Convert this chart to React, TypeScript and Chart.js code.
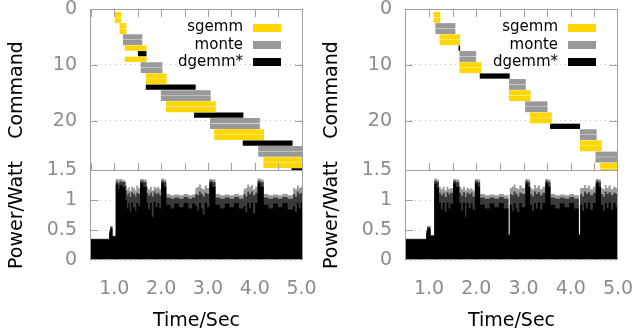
import React, { useEffect, useRef } from 'react';
import { Chart, registerables } from 'chart.js';
Chart.register(...registerables);

// ---------- shared ticks ----------
const commandTicks = [0, 10, 20];
const powerTicks = [0, 0.5, 1, 1.5];
const timeLabels = [1, 2, 3, 4, 5];
const timeMarks = [0.5, 1.0, 1.5, 2.0, 2.5, 3.0, 3.5, 4.0, 4.5, 5.0];
const powerMarks = [0.5, 1.0];

// ---------- left panel: commands [row, start, end] ----------
const leftSgemm: number[][] = [
  [1, 1.015, 1.137], [2, 1.015, 1.137], [3, 1.12, 1.25], [4, 1.12, 1.25],
  [7, 1.23, 1.68], [9, 1.23, 1.68], [12, 1.68, 2.11], [13, 1.68, 2.11],
  [17, 2.11, 3.16], [18, 2.11, 3.16], [22, 3.14, 4.19], [23, 3.14, 4.19],
  [27, 4.19, 5.25], [28, 4.19, 5.25],
];
const leftMonte: number[][] = [
  [5, 1.19, 1.59], [6, 1.19, 1.59], [10, 1.57, 2.02], [11, 1.57, 2.02],
  [15, 2.0, 3.05], [16, 2.0, 3.05], [20, 3.05, 4.1], [21, 3.05, 4.1],
  [25, 4.08, 5.13], [26, 4.08, 5.13],
];
const leftDgemm: number[][] = [
  [8, 1.51, 1.68], [14, 1.68, 2.73], [19, 2.71, 3.75], [24, 3.75, 4.8], [29, 4.79, 5.84],
];

// ---------- right panel: commands [row, start, end] ----------
const rightSgemm: number[][] = [
  [1, 1.1, 1.23], [2, 1.1, 1.23], [5, 1.23, 1.65], [6, 1.23, 1.65],
  [10, 1.65, 2.1], [11, 1.65, 2.1], [15, 2.7, 3.14], [16, 2.7, 3.14],
  [19, 3.14, 3.59], [20, 3.14, 3.59], [24, 4.2, 4.65], [25, 4.2, 4.65],
  [28, 4.63, 5.1], [29, 4.63, 5.1],
];
const rightMonte: number[][] = [
  [3, 1.14, 1.55], [4, 1.14, 1.55], [8, 1.65, 1.99], [9, 1.65, 1.99],
  [13, 2.7, 3.04], [14, 2.7, 3.04], [17, 3.04, 3.5], [18, 3.04, 3.5],
  [22, 4.2, 4.54], [23, 4.2, 4.54], [26, 4.53, 5.05], [27, 4.53, 5.05],
];
const rightDgemm: number[][] = [
  [7, 1.63, 1.65], [12, 2.08, 2.7], [21, 3.57, 4.19],
];

// ---------- power traces (breakpoints, value holds until next time) ----------
const leftPowerT = [0.48, 0.89, 0.91, 0.96, 1.03, 1.08, 1.11, 1.17, 1.24, 1.27, 1.3, 1.33, 1.36, 1.4, 1.44, 1.47, 1.51, 1.55, 1.62, 1.69, 1.72, 1.76, 1.8, 1.84, 1.88, 1.92, 1.96, 2.0, 2.06, 2.11, 2.2, 2.28, 2.38, 2.48, 2.58, 2.66, 2.73, 2.77, 2.81, 2.85, 2.89, 2.93, 2.98, 3.03, 3.09, 3.16, 3.26, 3.36, 3.46, 3.56, 3.66, 3.76, 3.8, 3.84, 3.88, 3.92, 3.96, 4.01, 4.06, 4.12, 4.19, 4.29, 4.39, 4.49, 4.59, 4.7, 4.82, 4.86, 4.9, 4.94, 4.98, 5.03];
const leftPowerBase = [0.34, 0.45, 0.52, 0.39, 1.26, 1.18, 1.25, 1.22, 1.0, 0.86, 0.95, 0.8, 0.96, 0.88, 0.82, 0.95, 0.9, 1.28, 1.22, 0.96, 0.84, 0.95, 0.72, 0.97, 0.88, 0.95, 0.86, 1.28, 1.22, 0.92, 0.86, 0.94, 0.88, 0.95, 0.86, 0.94, 0.9, 0.82, 0.95, 0.86, 0.76, 0.95, 0.88, 1.28, 1.22, 0.92, 0.86, 0.94, 0.88, 0.95, 0.86, 0.9, 0.8, 0.95, 0.86, 0.96, 0.78, 0.95, 1.28, 1.22, 0.92, 0.86, 0.94, 0.88, 0.95, 0.84, 0.9, 0.8, 0.95, 0.86, 0.96, 0.96];
const leftPowerMid = [0.35, 0.48, 0.55, 0.4, 1.31, 1.28, 1.31, 1.3, 1.15, 1.08, 1.12, 1.05, 1.13, 1.1, 1.06, 1.12, 1.1, 1.32, 1.3, 1.12, 1.08, 1.12, 1.06, 1.14, 1.1, 1.12, 1.08, 1.32, 1.3, 1.04, 1.02, 1.04, 1.02, 1.05, 1.02, 1.04, 1.1, 1.08, 1.14, 1.1, 1.06, 1.12, 1.1, 1.32, 1.3, 1.04, 1.02, 1.04, 1.02, 1.05, 1.02, 1.1, 1.06, 1.14, 1.1, 1.14, 1.08, 1.12, 1.32, 1.3, 1.04, 1.02, 1.04, 1.02, 1.05, 1.02, 1.1, 1.06, 1.14, 1.1, 1.12, 1.12];
const leftPowerTop = [0.36, 0.5, 0.57, 0.41, 1.35, 1.34, 1.35, 1.33, 1.24, 1.18, 1.22, 1.15, 1.22, 1.2, 1.16, 1.24, 1.2, 1.35, 1.34, 1.22, 1.18, 1.22, 1.16, 1.22, 1.2, 1.22, 1.18, 1.36, 1.34, 1.1, 1.08, 1.09, 1.08, 1.1, 1.08, 1.09, 1.2, 1.22, 1.26, 1.2, 1.18, 1.24, 1.2, 1.35, 1.34, 1.1, 1.08, 1.09, 1.08, 1.1, 1.08, 1.18, 1.2, 1.26, 1.22, 1.25, 1.18, 1.22, 1.36, 1.34, 1.1, 1.08, 1.09, 1.08, 1.1, 1.08, 1.2, 1.18, 1.24, 1.2, 1.22, 1.22];

const rightPowerT = [0.49, 0.94, 0.96, 1.03, 1.11, 1.16, 1.21, 1.25, 1.29, 1.33, 1.37, 1.41, 1.45, 1.51, 1.57, 1.64, 1.68, 1.72, 1.76, 1.79, 1.84, 1.88, 1.92, 1.97, 2.03, 2.08, 2.18, 2.28, 2.38, 2.48, 2.58, 2.68, 2.71, 2.75, 2.79, 2.83, 2.87, 2.91, 2.96, 3.04, 3.09, 3.14, 3.18, 3.22, 3.26, 3.3, 3.35, 3.4, 3.46, 3.52, 3.57, 3.67, 3.77, 3.87, 3.97, 4.07, 4.17, 4.2, 4.24, 4.28, 4.32, 4.36, 4.41, 4.47, 4.53, 4.59, 4.64, 4.68, 4.72, 4.76, 4.8, 4.85, 4.9, 4.95, 5.0];
const rightPowerBase = [0.34, 0.45, 0.52, 0.4, 1.27, 1.2, 0.96, 0.84, 0.95, 0.8, 0.96, 0.86, 0.94, 1.28, 1.22, 0.95, 0.82, 0.96, 0.72, 0.95, 0.86, 0.94, 0.84, 1.28, 1.22, 0.92, 0.86, 0.94, 0.88, 0.95, 0.86, 0.42, 0.92, 0.82, 0.95, 0.86, 0.8, 0.95, 0.88, 1.28, 1.22, 0.92, 0.82, 0.95, 0.86, 0.96, 0.84, 0.95, 1.28, 1.22, 0.92, 0.86, 0.94, 0.88, 0.95, 0.86, 0.42, 0.92, 0.82, 0.95, 0.86, 0.96, 0.84, 0.95, 1.28, 1.22, 0.92, 0.82, 0.95, 0.86, 0.96, 0.84, 0.95, 0.88, 0.88];
const rightPowerMid = [0.35, 0.48, 0.55, 0.41, 1.32, 1.3, 1.12, 1.08, 1.12, 1.05, 1.13, 1.09, 1.12, 1.32, 1.3, 1.12, 1.07, 1.13, 1.05, 1.12, 1.09, 1.12, 1.06, 1.32, 1.3, 1.04, 1.02, 1.04, 1.02, 1.05, 1.02, 0.42, 1.1, 1.08, 1.14, 1.1, 1.06, 1.12, 1.1, 1.32, 1.3, 1.1, 1.06, 1.14, 1.1, 1.13, 1.08, 1.12, 1.32, 1.3, 1.04, 1.02, 1.04, 1.02, 1.05, 1.02, 0.42, 1.1, 1.06, 1.14, 1.1, 1.13, 1.08, 1.12, 1.32, 1.3, 1.1, 1.06, 1.14, 1.1, 1.13, 1.08, 1.12, 1.1, 1.1];
const rightPowerTop = [0.36, 0.5, 0.57, 0.42, 1.36, 1.34, 1.22, 1.18, 1.22, 1.16, 1.22, 1.18, 1.2, 1.35, 1.34, 1.22, 1.18, 1.22, 1.16, 1.2, 1.18, 1.2, 1.16, 1.35, 1.34, 1.1, 1.08, 1.09, 1.08, 1.1, 1.08, 0.42, 1.2, 1.22, 1.26, 1.2, 1.18, 1.24, 1.2, 1.35, 1.34, 1.2, 1.18, 1.25, 1.2, 1.24, 1.18, 1.22, 1.35, 1.34, 1.1, 1.08, 1.09, 1.08, 1.1, 1.08, 0.42, 1.2, 1.2, 1.25, 1.2, 1.24, 1.18, 1.22, 1.35, 1.34, 1.2, 1.18, 1.25, 1.2, 1.24, 1.18, 1.22, 1.2, 1.2];

// ---------- styling ----------
const FONT = "'DejaVu Sans', sans-serif";
const TICK_COLOR = '#8c8c8c';
const FRAME_COLOR = '#a0a0a0';
const GRID_COLOR = '#c4c4c4';
const YELLOW = '#FFD700';
const GREY = '#999999';

const gnuFrame = {
  id: 'gnuFrame',
  beforeDatasetsDraw(chart: any, _a: any, o: any) {
    if (!o.front) drawMarks(chart, o);
  },
  afterDatasetsDraw(chart: any, _a: any, o: any) {
    if (o.front) drawMarks(chart, o);
    const { ctx, chartArea: a } = chart;
    ctx.save();
    ctx.strokeStyle = FRAME_COLOR;
    ctx.lineWidth = 1;
    ctx.strokeRect(Math.round(a.left) + 0.5, Math.round(a.top) + 0.5, Math.round(a.right - a.left) - 1, Math.round(a.bottom - a.top) - 1);
    ctx.restore();
  },
};

function drawMarks(chart: any, o: any) {
  const { ctx, chartArea: a, scales } = chart;
  const L = 8;
  ctx.save();
  ctx.strokeStyle = FRAME_COLOR;
  ctx.lineWidth = 1;
  ctx.beginPath();
  (o.xMarks || []).forEach((v: number) => {
    const px = Math.round(scales.x.getPixelForValue(v)) + 0.5;
    if (px <= a.left + 1 || px >= a.right - 1) return;
    if (o.xBottom) { ctx.moveTo(px, a.bottom); ctx.lineTo(px, a.bottom - L); }
    if (o.xTop) { ctx.moveTo(px, a.top); ctx.lineTo(px, a.top + L); }
  });
  (o.yMarks || []).forEach((v: number) => {
    const py = Math.round(scales.y.getPixelForValue(v)) + 0.5;
    if (py <= a.top + 1 || py >= a.bottom - 1) return;
    ctx.moveTo(a.left, py); ctx.lineTo(a.left + L, py);
    ctx.moveTo(a.right, py); ctx.lineTo(a.right - L, py);
  });
  ctx.stroke();
  ctx.restore();
}

const gnuLegend = {
  id: 'gnuLegend',
  afterDatasetsDraw(chart: any, _a: any, o: any) {
    if (!o.show) return;
    const { ctx, chartArea: a } = chart;
    ctx.save();
    ctx.font = `15px ${FONT}`;
    ctx.textAlign = 'right';
    ctx.textBaseline = 'middle';
    chart.data.datasets.forEach((ds: any, i: number) => {
      const cy = a.top + 18.5 + i * 17.3;
      const bx = a.right - 22 - 28;
      ctx.fillStyle = ds.backgroundColor;
      ctx.fillRect(bx, Math.round(cy - 4), 28, 8);
      ctx.fillStyle = '#000';
      ctx.fillText(ds.label, bx - 10, cy);
    });
    ctx.restore();
  },
};

function ganttSet(label: string, color: string, segs: number[][]) {
  return {
    type: 'bar',
    label,
    backgroundColor: color,
    borderWidth: 0,
    borderSkipped: false,
    barThickness: 4.6,
    grouped: false,
    data: segs.map((s) => ({ x: [s[1], s[2]], y: s[0] })),
  };
}

function powerSet(color: string, t: number[], v: number[]) {
  return {
    type: 'line',
    backgroundColor: color,
    borderWidth: 0,
    borderColor: 'rgba(0,0,0,0)',
    pointRadius: 0,
    stepped: true,
    fill: 'origin',
    data: t.map((x, i) => ({ x, y: v[i] })),
  };
}

const titleFont = { family: FONT, size: 19 };
const tickFont = { family: FONT, size: 19 };
const noEdgePadding = (s: any) => { s.paddingTop = 0; s.paddingBottom = 0; s.paddingLeft = 0; s.paddingRight = 0; };

function topConfig(xMin: number, xMax: number, sg: number[][], mo: number[][], dg: number[][]): any {
  return {
    type: 'bar',
    data: { datasets: [ganttSet('sgemm', YELLOW, sg), ganttSet('monte', GREY, mo), ganttSet('dgemm*', '#000000', dg)] },
    plugins: [gnuFrame, gnuLegend],
    options: {
      indexAxis: 'y',
      animation: false,
      responsive: false,
      devicePixelRatio: 1,
      events: [],
      layout: { padding: { top: 9, bottom: 0, left: 0, right: 14 } },
      plugins: {
        legend: { display: false },
        tooltip: { enabled: false },
        gnuLegend: { show: true },
        gnuFrame: { front: true, xMarks: timeMarks, yMarks: commandTicks, xTop: true, xBottom: true },
      },
      scales: {
        x: { type: 'linear', min: xMin, max: xMax, display: false, offset: false },
        y: {
          type: 'linear', reverse: true, min: 0, max: 29, offset: false,
          afterFit: (s: any) => { s.width = 90; noEdgePadding(s); },
          afterBuildTicks: (s: any) => { s.ticks = commandTicks.map((v) => ({ value: v })); },
          grid: { drawTicks: false, color: GRID_COLOR, lineWidth: 1, offset: false },
          border: { display: false, dash: [1, 4] },
          ticks: { padding: 13, color: TICK_COLOR, font: tickFont },
          title: { display: true, text: 'Command', color: '#000', font: titleFont, padding: { top: 6, bottom: 0 } },
        },
      },
    },
  };
}

function bottomConfig(xMin: number, xMax: number, t: number[], base: number[], mid: number[], top: number[]): any {
  return {
    type: 'line',
    data: { datasets: [powerSet('#000000', t, base), powerSet('#3a3a3a', t, mid), powerSet('#9a9a9a', t, top)] },
    plugins: [gnuFrame],
    options: {
      animation: false,
      responsive: false,
      devicePixelRatio: 1,
      events: [],
      layout: { padding: { top: 20, bottom: 0, left: 0, right: 14 } },
      plugins: {
        legend: { display: false },
        tooltip: { enabled: false },
        gnuFrame: { front: false, xMarks: timeMarks, yMarks: powerMarks, xTop: false, xBottom: true },
      },
      scales: {
        x: {
          type: 'linear', min: xMin, max: xMax, offset: false,
          afterFit: (s: any) => { s.height = 72; noEdgePadding(s); },
          afterBuildTicks: (s: any) => { s.ticks = timeLabels.map((v) => ({ value: v })); },
          grid: { display: false, drawTicks: false },
          border: { display: false },
          ticks: { padding: 18, color: TICK_COLOR, font: tickFont, maxRotation: 0, autoSkip: false, callback: (v: number) => v.toFixed(1) },
          title: { display: true, text: 'Time/Sec', color: '#000', font: titleFont, padding: { top: 0, bottom: 0 } },
        },
        y: {
          type: 'linear', min: 0, max: 1.5,
          afterFit: (s: any) => { s.width = 90; noEdgePadding(s); },
          afterBuildTicks: (s: any) => { s.ticks = powerTicks.map((v) => ({ value: v })); },
          grid: { drawTicks: false, color: GRID_COLOR, lineWidth: 1 },
          border: { display: false, dash: [1, 4] },
          ticks: { padding: 13, color: TICK_COLOR, font: tickFont, callback: (v: number) => String(v) },
          title: { display: true, text: 'Power/Watt', color: '#000', font: titleFont, padding: { top: 6, bottom: 0 } },
        },
      },
    },
  };
}

function ChartCanvas({ config, left, top, width, height }: { config: any; left: number; top: number; width: number; height: number }) {
  const ref = useRef<HTMLCanvasElement>(null);
  useEffect(() => {
    if (!ref.current) return;
    const chart = new Chart(ref.current, config);
    return () => chart.destroy();
  }, []);
  return (
    <canvas
      ref={ref}
      width={width}
      height={height}
      style={{ position: 'absolute', left, top, width, height }}
    />
  );
}

export default function App() {
  return (
    <div style={{ position: 'absolute', left: 0, top: 0, width: 634, height: 332, background: '#fff', overflow: 'hidden' }}>
      <ChartCanvas config={topConfig(0.48, 5.03, leftSgemm, leftMonte, leftDgemm)} left={0} top={0} width={317} height={171} />
      <ChartCanvas config={bottomConfig(0.48, 5.03, leftPowerT, leftPowerBase, leftPowerMid, leftPowerTop)} left={0} top={150} width={317} height={182} />
      <ChartCanvas config={topConfig(0.49, 5.0, rightSgemm, rightMonte, rightDgemm)} left={315} top={0} width={317} height={171} />
      <ChartCanvas config={bottomConfig(0.49, 5.0, rightPowerT, rightPowerBase, rightPowerMid, rightPowerTop)} left={315} top={150} width={317} height={182} />
    </div>
  );
}
